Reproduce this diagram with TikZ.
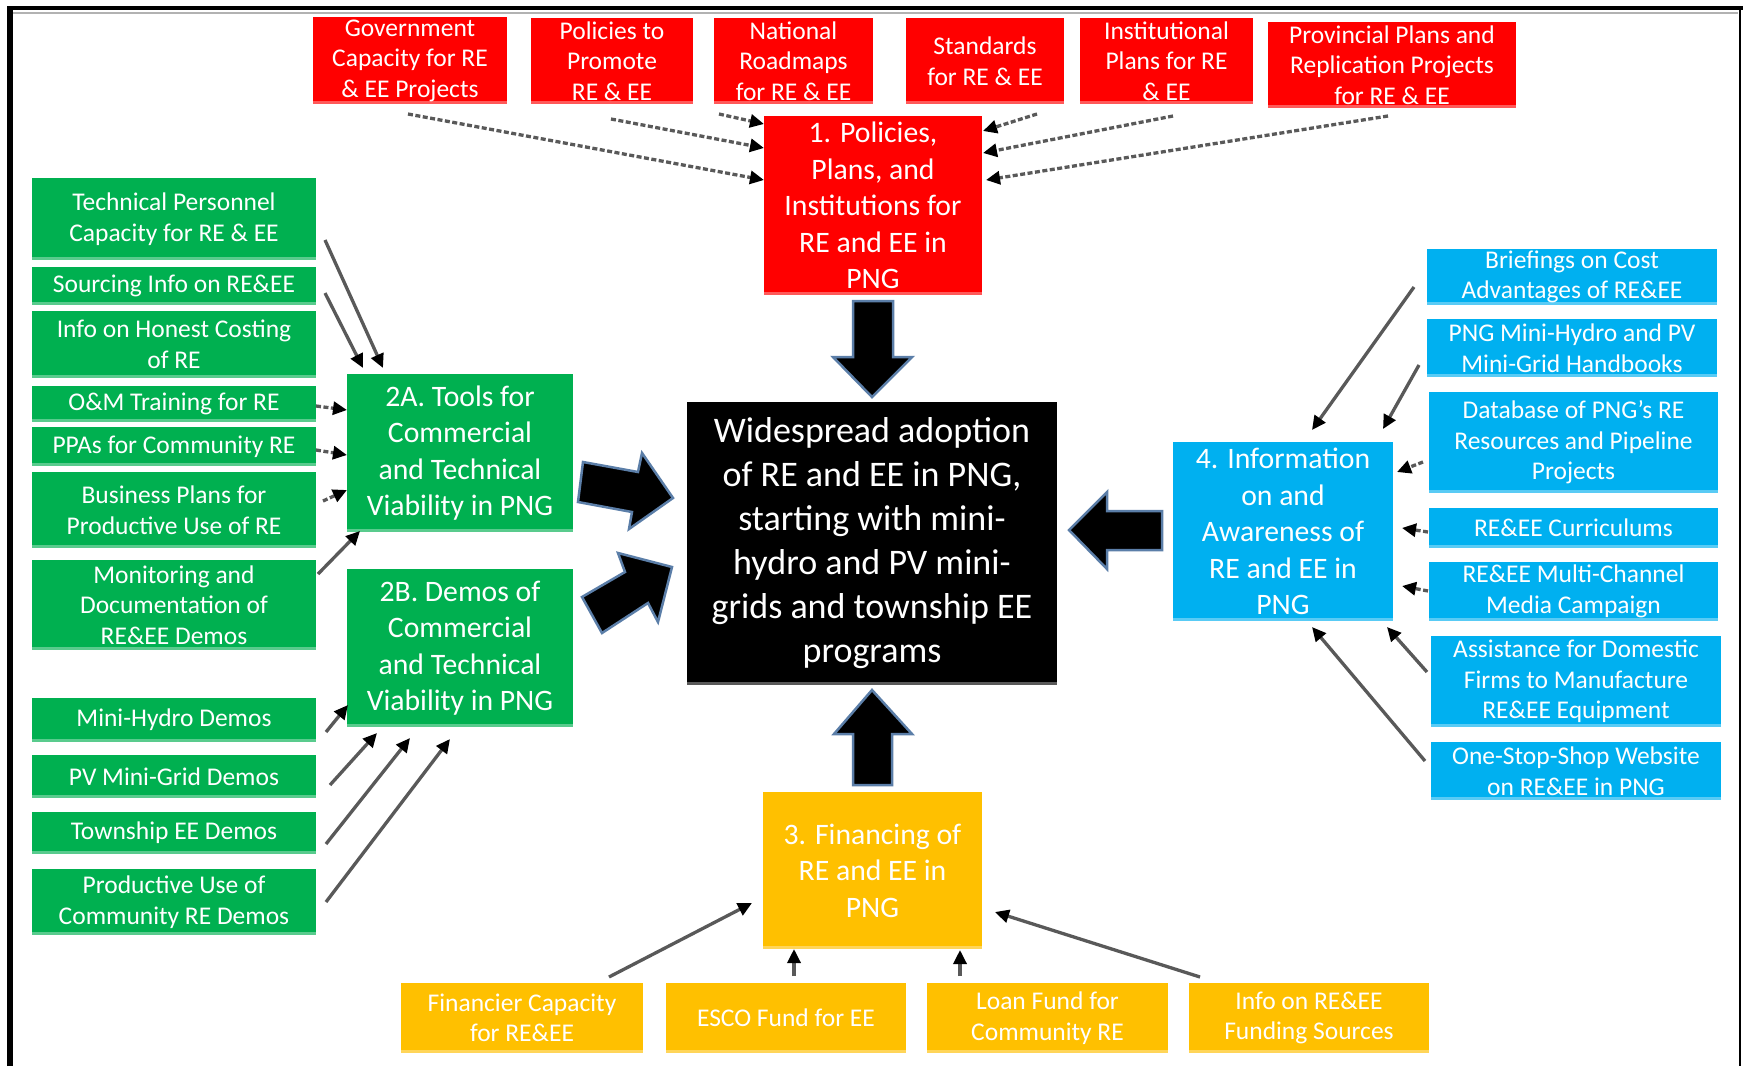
\documentclass[tikz,border=0pt]{standalone}
\usepackage{fontspec}
\setmainfont{Carlito}
\usetikzlibrary{arrows.meta,calc}
\definecolor{pred}{HTML}{FF0000}
\definecolor{pgreen}{HTML}{00B050}
\definecolor{pblue}{HTML}{00B0F0}
\definecolor{pyellow}{HTML}{FFC000}
\definecolor{conngray}{HTML}{595959}
\definecolor{barrowline}{HTML}{5B7EA8}
\tikzset{
  box/.style={rectangle, inner sep=0pt, outer sep=0pt, text=white, align=center,
    path picture={\fill[white,opacity=0.35] (path picture bounding box.south west) rectangle ([yshift=3pt]path picture bounding box.south east);}},
  smallbox/.style={box, font=\fontsize{25.5}{30.5}\selectfont},
  bigbox/.style={box, font=\fontsize{29.7}{36.5}\selectfont},
  redbox/.style={fill=pred},
  greenbox/.style={fill=pgreen},
  bluebox/.style={fill=pblue},
  yellowbox/.style={fill=pyellow},
  conn/.style={draw=conngray, line width=3.3pt, -{Triangle[length=14pt,width=13pt,color=black]}},
  dconn/.style={conn, dash pattern=on 5pt off 2.5pt},
  barrow/.style={fill=black, draw=barrowline, line width=2.5pt, line join=miter},
}
\begin{document}
\begin{tikzpicture}[x=1pt,y=-1pt]
\fill[white] (0,0) rectangle (1743,1066);
\useasboundingbox (0,0) rectangle (1743,1066);
% frame
\draw[gray!60, line width=2pt] (13,12.5) -- (1738,12.5);
\draw[line width=6pt] (10,1066) -- (10,8);
\draw[line width=4.5pt] (7,8) -- (1743,8);
\draw[line width=2.5pt] (1740,8) -- (1740,1066);

% red row
\node[smallbox, redbox, minimum width=194pt, minimum height=87pt] (gov) at (410,60.5) {Government\\Capacity for RE\\\& EE Projects};
\node[smallbox, redbox, minimum width=162pt, minimum height=86pt] (pol) at (612,61) {Policies to\\Promote\\RE \& EE};
\node[smallbox, redbox, minimum width=159pt, minimum height=86pt] (nat) at (793.5,61) {National\\Roadmaps\\for RE \& EE};
\node[smallbox, redbox, minimum width=158pt, minimum height=86pt] (std) at (985,61) {Standards\\for RE \& EE};
\node[smallbox, redbox, minimum width=173pt, minimum height=86pt] (inst) at (1166.5,61) {Institutional\\Plans for RE\\\& EE};
\node[smallbox, redbox, minimum width=248pt, minimum height=86pt] (prov) at (1392,65) {Provincial Plans and\\Replication Projects\\for RE \& EE};
\node[bigbox, redbox, minimum width=218pt, minimum height=179pt] (n1) at (873,205.5) {1. Policies,\\Plans, and\\Institutions for\\RE and EE in\\PNG};

% green left
\node[smallbox, greenbox, minimum width=284pt, minimum height=82pt] (tp) at (174,219) {Technical Personnel\\Capacity for RE \& EE};
\node[smallbox, greenbox, minimum width=284pt, minimum height=38pt] (src) at (174,286) {Sourcing Info on RE\&EE};
\node[smallbox, greenbox, minimum width=284pt, minimum height=67pt] (hon) at (174,344.5) {Info on Honest Costing\\of RE};
\node[smallbox, greenbox, minimum width=284pt, minimum height=36pt] (om) at (174,404) {O\&M Training for RE};
\node[smallbox, greenbox, minimum width=284pt, minimum height=39pt] (ppa) at (174,446.5) {PPAs for Community RE};
\node[smallbox, greenbox, minimum width=284pt, minimum height=76pt] (bus) at (174,510) {Business Plans for\\Productive Use of RE};
\node[smallbox, greenbox, minimum width=284pt, minimum height=90pt] (mon) at (174,605) {Monitoring and\\Documentation of\\RE\&EE Demos};
\node[smallbox, greenbox, minimum width=284pt, minimum height=44pt] (mh) at (174,720) {Mini-Hydro Demos};
\node[smallbox, greenbox, minimum width=284pt, minimum height=43pt] (pv) at (174,776.5) {PV Mini-Grid Demos};
\node[smallbox, greenbox, minimum width=284pt, minimum height=42pt] (tw) at (174,833) {Township EE Demos};
\node[smallbox, greenbox, minimum width=284pt, minimum height=66pt] (pu) at (174,902) {Productive Use of\\Community RE Demos};
\node[bigbox, greenbox, minimum width=226pt, minimum height=158pt] (a2) at (460,453) {2A. Tools for\\Commercial\\and Technical\\Viability in PNG};
\node[bigbox, greenbox, minimum width=226pt, minimum height=158pt] (b2) at (460,648) {2B. Demos of\\Commercial\\and Technical\\Viability in PNG};

% center
\node[box, fill=black, minimum width=370pt, minimum height=283pt, font=\fontsize{36}{44}\selectfont] (c) at (872,543.5) {Widespread adoption\\of RE and EE in PNG,\\starting with mini-\\hydro and PV mini-\\grids and township EE\\programs};

% yellow
\node[bigbox, yellowbox, minimum width=219pt, minimum height=157pt] (n3) at (872.5,870.5) {3. Financing of\\RE and EE in\\PNG};
\node[smallbox, yellowbox, minimum width=242pt, minimum height=70pt] (fin) at (522,1018) {Financier Capacity\\for RE\&EE};
\node[smallbox, yellowbox, minimum width=240pt, minimum height=70pt] (esco) at (786,1018) {ESCO Fund for EE};
\node[smallbox, yellowbox, minimum width=241pt, minimum height=70pt] (loan) at (1047.5,1018) {Loan Fund for\\Community RE};
\node[smallbox, yellowbox, minimum width=240pt, minimum height=70pt] (info) at (1309,1018) {Info on RE\&EE\\Funding Sources};

% blue
\node[bigbox, bluebox, minimum width=220pt, minimum height=179pt] (n4) at (1283,531.5) {4. Information\\on and\\Awareness of\\RE and EE in\\PNG};
\node[smallbox, bluebox, minimum width=290pt, minimum height=56pt] (brief) at (1572,277) {Briefings on Cost\\Advantages of RE\&EE};
\node[smallbox, bluebox, minimum width=290pt, minimum height=58pt] (hand) at (1572,348) {PNG Mini-Hydro and PV\\Mini-Grid Handbooks};
\node[smallbox, bluebox, minimum width=289pt, minimum height=101pt] (db) at (1573.5,442.5) {Database of PNG’s RE\\Resources and Pipeline\\Projects};
\node[smallbox, bluebox, minimum width=289pt, minimum height=40pt] (cur) at (1573.5,528) {RE\&EE Curriculums};
\node[smallbox, bluebox, minimum width=289pt, minimum height=59pt] (med) at (1573.5,591.5) {RE\&EE Multi-Channel\\Media Campaign};
\node[smallbox, bluebox, minimum width=290pt, minimum height=91pt] (asst) at (1576,681.5) {Assistance for Domestic\\Firms to Manufacture\\RE\&EE Equipment};
\node[smallbox, bluebox, minimum width=290pt, minimum height=58pt] (one) at (1576,771) {One-Stop-Shop Website\\on RE\&EE in PNG};

% block arrows
\draw[barrow] ($(c.north)+(0,-5)$) -- ++(-39,-40) -- ++(20,0) -- ++(0,-56) -- ++(40,0) -- ++(0,56) -- ++(19,0) -- cycle;
\draw[barrow] ($(c.south)+(0,5)$) -- ++(-38,44) -- ++(19,0) -- ++(0,51) -- ++(39,0) -- ++(0,-51) -- ++(20,0) -- cycle;
\draw[barrow] ($(c.east)+(12,-13.5)$) -- ++(38,-38) -- ++(0,19) -- ++(55,0) -- ++(0,39) -- ++(-55,0) -- ++(0,19) -- cycle;
\draw[barrow] ($(c.west)+(-14,-45.5)$) -- ++(-44,31) -- ++(3,-17) -- ++(-54,-10) -- ++(5,-40) -- ++(55,10) -- ++(4,-19) -- cycle;
\draw[barrow] ($(c.west)+(-15,23.5)$) -- ++(-14,55) -- ++(-10,-19) -- ++(-46,30) -- ++(-20,-36) -- ++(43,-25) -- ++(-7,-19) -- cycle;

% top connectors
\draw[dconn] ($(gov.south)+(-2,10)$) -- ($(n1.north west)+(0,64)$);
\draw[dconn] ($(pol.south)+(-1,15)$) -- ($(n1.north west)+(0,32)$);
\draw[dconn] ($(nat.south)+(-74.5,10)$) -- ($(n1.north west)+(0,8)$);
\draw[dconn] ($(std.south)+(52,10)$) -- ($(n1.north east)+(1,15)$);
\draw[dconn] ($(inst.south)+(6.5,12)$) -- ($(n1.north east)+(1,37)$);
\draw[dconn] ($(prov.south)+(-4,8)$) -- ($(n1.north east)+(4,64)$);

% 2A connectors
\draw[conn] ($(tp.east)+(9,21)$) -- ($(a2.north west)+(36,-6)$);
\draw[conn] ($(src.east)+(9,7)$) -- ($(a2.north west)+(16,-6)$);
\draw[dconn] ($(om.east)+(0,2)$) -- ($(a2.north west)+(0,36)$);
\draw[dconn] ($(ppa.east)+(0,3.5)$) -- ($(a2.north west)+(0,81)$);
\draw[dconn] ($(bus.east)+(7,-9)$) -- ($(a2.north west)+(0,116)$);
\draw[conn] ($(mon.east)+(2,-31)$) -- ($(a2.south west)+(13,-1)$);

% 2B connectors
\draw[conn] ($(mh.east)+(10,12)$) -- ($(b2.south west)+(1,-22)$);
\draw[conn] ($(pv.east)+(14,8.5)$) -- ($(b2.south west)+(30,6)$);
\draw[conn] ($(tw.east)+(10,11)$) -- ($(b2.south west)+(63,11)$);
\draw[conn] ($(pu.east)+(10,0)$) -- ($(b2.south west)+(103,12)$);

% 3 connectors
\draw[conn] ($(fin.north)+(87,-6)$) -- ($(n3.south west)+(-11,-46)$);
\draw[conn] ($(esco.north)+(8,-7)$) -- ($(n3.south west)+(31,0)$);
\draw[conn] ($(loan.north)+(-87.5,-7)$) -- ($(n3.south west)+(197,1)$);
\draw[conn] ($(info.north)+(-109,-6)$) -- ($(n3.south east)+(13,-37)$);

% 4 connectors
\draw[conn] ($(brief.west)+(-13,10)$) -- ($(n4.north west)+(139,-12)$);
\draw[conn] ($(hand.west)+(-8,17)$) -- ($(n4.north west)+(210,-13)$);
\draw[dconn] ($(db.west)+(-6,19.5)$) -- ($(n4.north east)+(4,30)$);
\draw[dconn] ($(cur.west)+(-1,4)$) -- ($(n4.north east)+(9,86)$);
\draw[dconn] ($(med.west)+(-1,-0.5)$) -- ($(n4.north east)+(9,144)$);
\draw[conn] ($(asst.west)+(-4,-9.5)$) -- ($(n4.south east)+(-6,6)$);
\draw[conn] ($(one.west)+(-6,-10)$) -- ($(n4.south west)+(139,6)$);
\end{tikzpicture}
\end{document}
